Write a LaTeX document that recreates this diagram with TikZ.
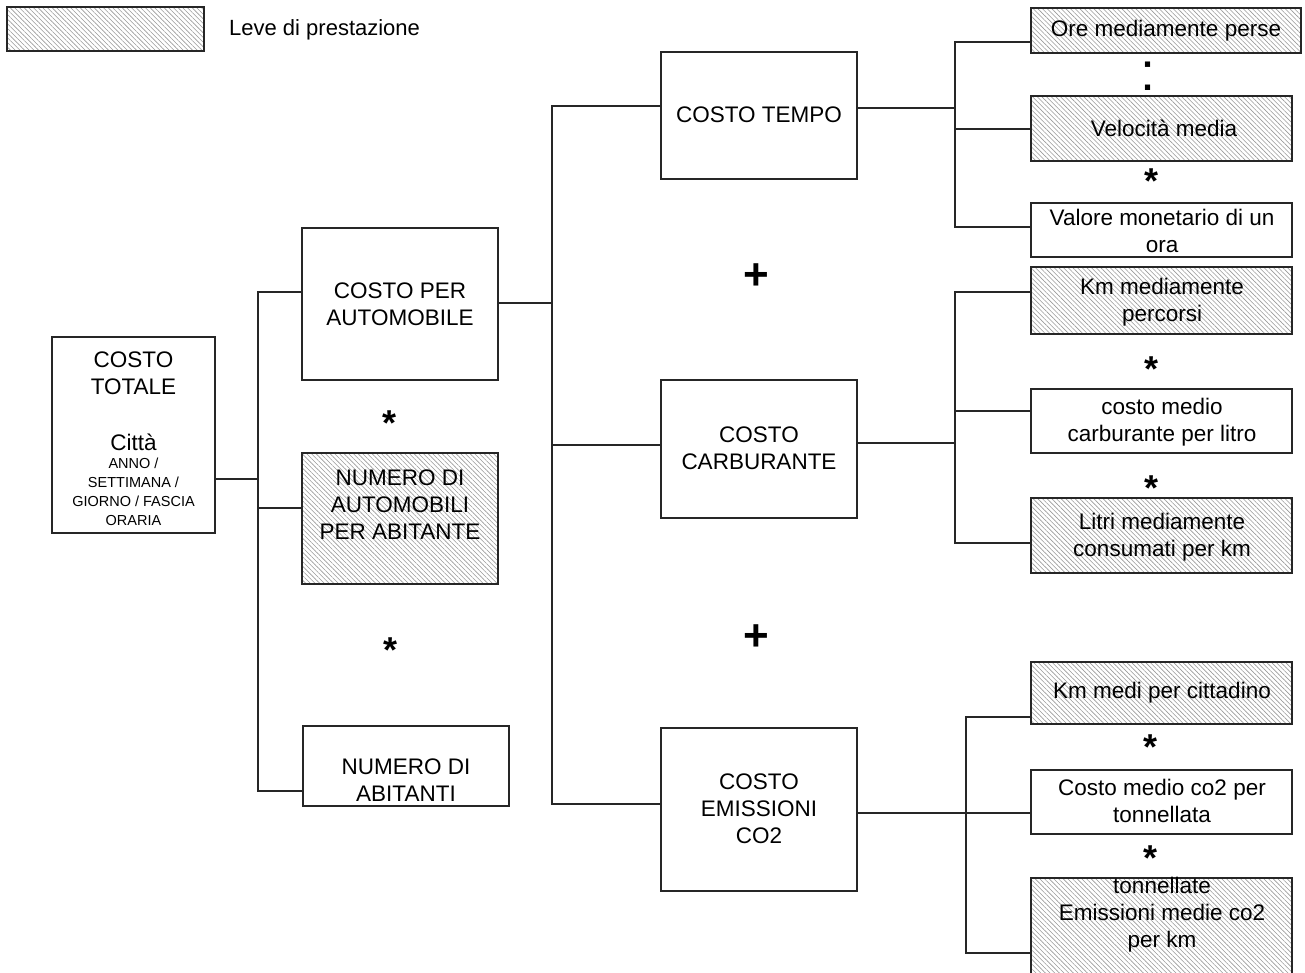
\documentclass[tikz,border=0pt]{standalone}
\usepackage{fontspec}
\setmainfont{Liberation Sans}
\usetikzlibrary{patterns.meta}
\tikzset{
 box/.style={draw=black!85, line width=1.2pt, rectangle, inner sep=0pt, outer sep=0pt},
 lever/.style={box, pattern={Lines[angle=-45,distance=3.3pt,line width=0.6pt]}, pattern color=black!40},
 txt/.style={font=\fontsize{22.5}{27}\selectfont, align=center, inner sep=0pt},
 smalltxt/.style={font=\fontsize{14.5}{19}\selectfont, align=center, inner sep=0pt},
 startxt/.style={font=\fontsize{36}{36}\selectfont\bfseries, inner sep=0pt, anchor=base},
 plustxt/.style={font=\fontsize{44}{44}\selectfont\bfseries, inner sep=0pt, anchor=base},
 conn/.style={draw=black!85, line width=1.2pt},
}
\newcommand\boxnode[6]{\node[#6, minimum width={(#4-#2)*1pt}, minimum height={(#5-#3)*1pt}] (#1) at ({(#2+#4)/2},{(#3+#5)/2}) {};}
\begin{document}
\begin{tikzpicture}[x=1pt,y=-1pt]
\useasboundingbox (0,0) rectangle (1305,973);
\clip (0,0) rectangle (1305,973);
% legend
\boxnode{lg}{7}{7}{204}{51}{lever}
\node[txt, font=\fontsize{22}{26}\selectfont, anchor=west] (lgt) at (229,30) {Leve di prestazione};
% left column
\boxnode{tot}{52}{337}{215}{533}{box}
\node[txt] (tott) at (133.5,373) {COSTO\\TOTALE};
\node[txt] (totc) at (133.5,442) {Città};
\node[smalltxt] (tots) at (133.5,491.5) {ANNO /\\SETTIMANA /\\GIORNO / FASCIA\\ORARIA};
% second column
\boxnode{cpa}{302}{228}{498}{380}{box}
\node[txt] (cpat) at (400,304) {COSTO PER\\AUTOMOBILE};
\boxnode{nap}{302}{453}{498}{584}{lever}
\node[txt] (napt) at (400,505) {NUMERO DI\\AUTOMOBILI\\PER ABITANTE};
\boxnode{nab}{303}{726}{509}{806}{box}
\node[txt] (nabt) at (406,780) {NUMERO DI\\ABITANTI};
\node[startxt] (s1) at (389,435) {*};
\node[startxt] (s2) at (390,662) {*};
% third column
\boxnode{ct}{661}{52}{857}{179}{box}
\node[txt] (ctt) at (759,115) {COSTO TEMPO};
\boxnode{cc}{661}{380}{857}{518}{box}
\node[txt] (cct) at (759,448) {COSTO\\CARBURANTE};
\boxnode{ce}{661}{728}{857}{891}{box}
\node[txt] (cet) at (759,809) {COSTO\\EMISSIONI\\CO2};
\node[plustxt] (p1) at (756,290) {+};
\node[plustxt] (p2) at (756,650) {+};
% right column
\boxnode{r1}{1031}{8}{1301}{53}{lever}
\node[txt] (r1t) at (1166,31) {Ore mediamente perse};
\node[font=\fontsize{54}{54}\selectfont, inner sep=0pt, anchor=base] (colon) at (1148,91) {:};
\boxnode{r2}{1031}{96}{1292}{161}{lever}
\node[txt] (r2t) at (1164,128) {Velocità media};
\node[startxt] (s3) at (1151,194) {*};
\boxnode{r3}{1031}{203}{1292}{257}{box}
\node[txt] (r3t) at (1162,231) {Valore monetario di un\\ora};
\boxnode{r4}{1031}{267}{1292}{334}{lever}
\node[txt] (r4t) at (1162,302) {Km mediamente\\percorsi};
\node[startxt] (s4) at (1151,381) {*};
\boxnode{r5}{1031}{389}{1292}{453}{box}
\node[txt] (r5t) at (1162,422) {costo medio\\carburante per litro};
\node[startxt] (s5) at (1151,500) {*};
\boxnode{r6}{1031}{498}{1292}{573}{lever}
\node[txt] (r6t) at (1162,537) {Litri mediamente\\consumati per km};
\boxnode{r7}{1031}{662}{1292}{724}{lever}
\node[txt] (r7t) at (1162,693) {Km medi per cittadino};
\node[startxt] (s6) at (1150,759) {*};
\boxnode{r8}{1031}{770}{1292}{834}{box}
\node[txt] (r8t) at (1162,801) {Costo medio co2 per\\tonnellata};
\node[startxt] (s7) at (1150,870) {*};
\boxnode{r9}{1031}{878}{1292}{990}{lever}
\node[txt] (r9t) at (1162,915) {tonnellate\\Emissioni medie co2\\per km};
% connectors: level 1
\coordinate (j1) at (258,479);
\coordinate (b1t) at (258,292);
\coordinate (b1m) at (258,508);
\coordinate (b1b) at (258,791);
\draw[conn] (tot.east |- j1) -- (j1);
\draw[conn] (cpa.west |- b1t) -- (b1t) -- (b1b) -- (nab.west |- b1b);
\draw[conn] (b1m) -- (nap.west |- b1m);
% level 2
\coordinate (j2) at (552,303);
\coordinate (b2t) at (552,106);
\coordinate (b2m) at (552,445);
\coordinate (b2b) at (552,804);
\draw[conn] (cpa.east |- j2) -- (j2);
\draw[conn] (ct.west |- b2t) -- (b2t) -- (b2b) -- (ce.west |- b2b);
\draw[conn] (b2m) -- (cc.west |- b2m);
% level 3: tempo
\coordinate (j3) at (955,108);
\coordinate (b3t) at (955,42);
\coordinate (b3m) at (955,129);
\coordinate (b3b) at (955,227);
\draw[conn] (ct.east |- j3) -- (j3);
\draw[conn] (r1.west |- b3t) -- (b3t) -- (b3b) -- (r3.west |- b3b);
\draw[conn] (b3m) -- (r2.west |- b3m);
% level 3: carburante
\coordinate (j4) at (955,443);
\coordinate (b4t) at (955,292);
\coordinate (b4m) at (955,411);
\coordinate (b4b) at (955,543);
\draw[conn] (cc.east |- j4) -- (j4);
\draw[conn] (r4.west |- b4t) -- (b4t) -- (b4b) -- (r6.west |- b4b);
\draw[conn] (b4m) -- (r5.west |- b4m);
% level 3: emissioni
\coordinate (j5) at (966,813);
\coordinate (b5t) at (966,717);
\coordinate (b5b) at (966,953);
\draw[conn] (ce.east |- j5) -- (r8.west |- j5);
\draw[conn] (r7.west |- b5t) -- (b5t) -- (b5b) -- (r9.west |- b5b);
\end{tikzpicture}
\end{document}
